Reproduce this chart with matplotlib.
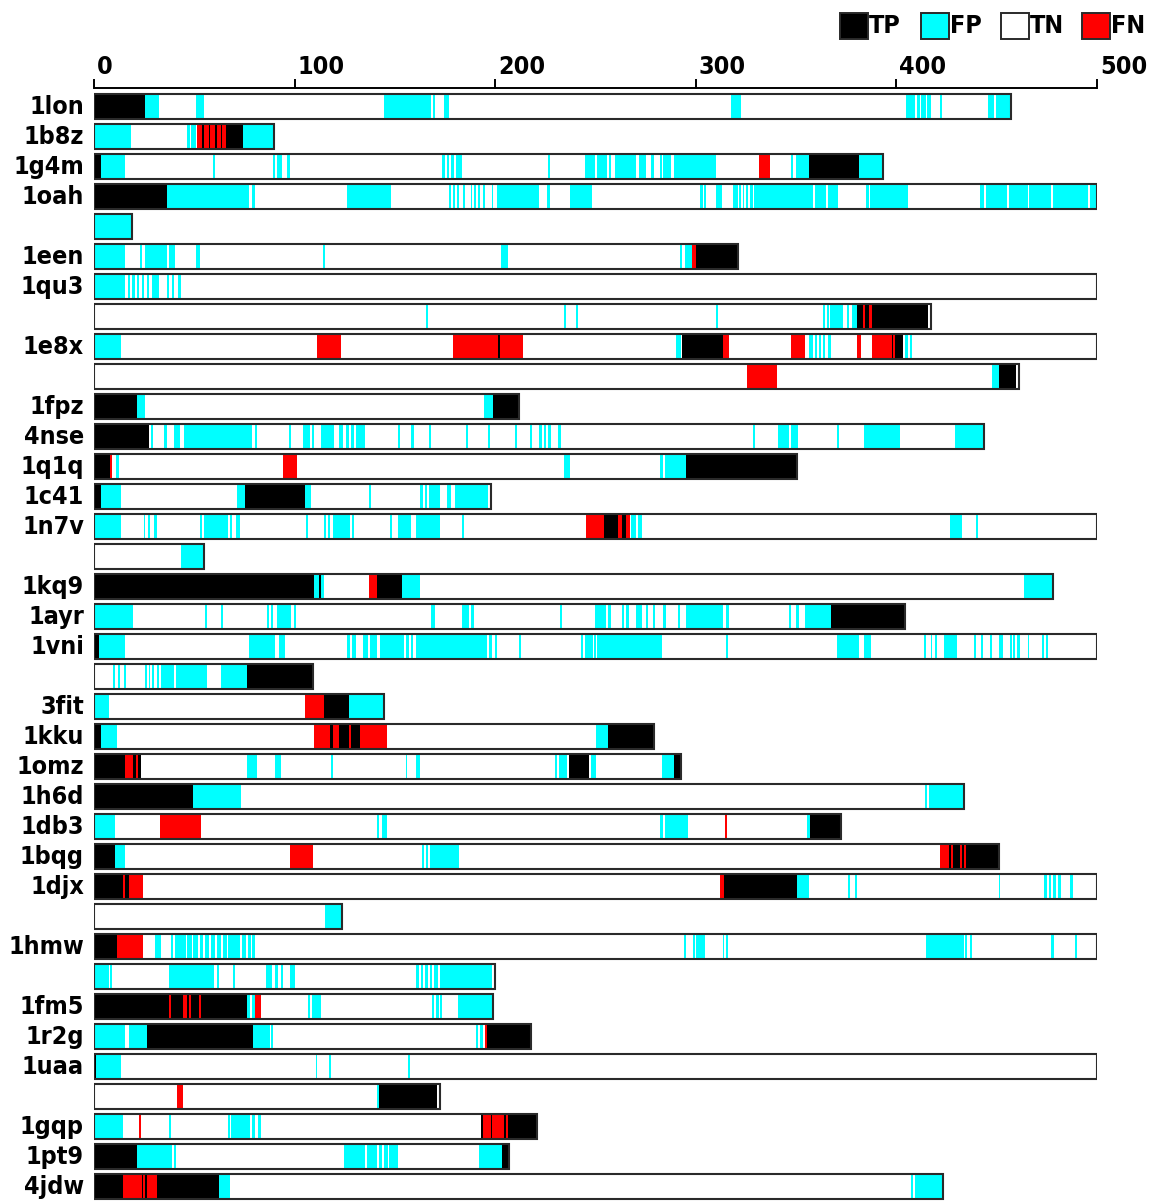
import matplotlib
matplotlib.use("Agg")
import matplotlib.pyplot as plt
from matplotlib.patches import Rectangle

# one entry per bar row ('' = continuation of the protein above)
labels = ['1lon', '1b8z', '1g4m', '1oah', '', '1een', '1qu3', '', '1e8x', '',
          '1fpz', '4nse', '1q1q', '1c41', '1n7v', '', '1kq9', '1ayr', '1vni', '',
          '3fit', '1kku', '1omz', '1h6d', '1db3', '1bqg', '1djx', '', '1hmw', '',
          '1fm5', '1r2g', '1uaa', '', '1gqp', '1pt9', '4jdw']
lengths = [457, 89.7, 393.2, 500, 19, 321.1, 500, 417, 500, 461,
           211.9, 443.9, 350.3, 198, 500, 55, 478.3, 404.4, 500, 109.1,
           144.4, 279, 292.8, 433.5, 372.2, 451, 500, 123.4, 500, 199.7,
           199.1, 217.8, 500, 172.4, 221, 206.7, 423.3]

tp_runs = [
    [(0, 25.6)],
    [(53.8, 54.6), (57.4, 58), (60.5, 61.1), (63.4, 64), (66, 74.4)],
    [(0, 3.5), (356.4, 381.5)],
    [(0, 36.5)],
    [],
    [(300.3, 321.1)],
    [],
    [(380.6, 383.3), (384.4, 386.5), (387.6, 415.6)],
    [(201.4, 202.2), (293.3, 313.4), (397.6, 398.5), (399.4, 403.4)],
    [(450.9, 459.5)],
    [(0, 21.4), (199.1, 211.9)],
    [(0, 27.5)],
    [(0, 8.1), (295.1, 350.3)],
    [(0, 3.3), (75.2, 105.3)],
    [(254.3, 261.1), (263.2, 265)],
    [],
    [(0, 109.8), (112.4, 113.3), (141.3, 153.4)],
    [(367.5, 404.4)],
    [(0, 2.3)],
    [(76.1, 109.1)],
    [(114.6, 127.2)],
    [(0, 3.3), (117.5, 119), (122.3, 127), (128.2, 132.4), (256.1, 279)],
    [(0, 15.5), (19.5, 21), (22, 23.3), (236.7, 246.8), (289.2, 292.8)],
    [(0, 49.4)],
    [(356.8, 372.2)],
    [(0, 10.4), (426, 427), (428, 431.5), (432.5, 433.5), (434.9, 451)],
    [(0, 14.5), (15.6, 17.6), (314.3, 350.5)],
    [],
    [(0, 11.3)],
    [],
    [(0, 37.6), (38.4, 44.3), (46.6, 47.5), (48.5, 52.3), (53.3, 76.1)],
    [(26.6, 79.4), (195.7, 217.8)],
    [(0, 0.8)],
    [(141.9, 171.1)],
    [(193, 194), (197.8, 198.5), (204.4, 205.2), (206.3, 221)],
    [(0, 21.4), (203.3, 206.7)],
    [(0, 14.4), (23.7, 24.3), (25.6, 26.6), (31.3, 62.2)],
]

fp_runs = [
    [(25.6, 32.3), (50.6, 54.6), (144.4, 168), (169.2, 170.1), (174.3, 177.2),
     (317.4, 322.4), (404.6, 409.5), (410.5, 411.6), (412.5, 414.8), (415.5, 417),
     (421.5, 422.7), (445.8, 448.7), (449.8, 457)],
    [(0, 18.4), (46.6, 47.7), (48.5, 50.8), (74.4, 89.7)],
    [(3.5, 15.7), (59.4, 60.3), (89.3, 90.4), (91.4, 93.9), (96, 97.5), (173.4, 174.9),
     (175.8, 177.2), (178.1, 179.5), (180.6, 183.3), (226.4, 227.3), (244.9, 249.8),
     (250.7, 255.5), (256.6, 257.9), (259.6, 270.4), (271.5, 275.4), (277.9, 279.4),
     (282, 283), (283.8, 287.4), (289.2, 310.2), (347.5, 348.5), (350.1, 356.4),
     (381.5, 393.2)],
    [(36.5, 77.5), (79, 80.3), (126.1, 148), (176.8, 178.1), (179.1, 180), (181, 181.9),
     (183.8, 184.8), (187.7, 188.6), (189.6, 190.5), (191.5, 192.4), (193.8, 194.9),
     (198.2, 199.1), (201, 222), (225.8, 227.3), (237.2, 248.3), (302.3, 303.5),
     (304.1, 305), (310.2, 313.1), (318.4, 320.9), (321.5, 322.4), (323.3, 324.2),
     (325.1, 326), (326.9, 328.6), (329.2, 358.6), (359.6, 365), (366, 370.8),
     (384.7, 386.2), (386.8, 405.7), (441.5, 443.9), (444.8, 455), (455.9, 465.4),
     (466.1, 477), (477.9, 495.3), (496.6, 499.8)],
    [(0, 19)],
    [(0, 15.7), (22.7, 24.1), (25.2, 36.5), (37.4, 40.5), (50.6, 52.7), (114.3, 115.2),
     (202.9, 206.2), (292.3, 293.3), (294.6, 298.2)],
    [(0, 15.7), (16.7, 18), (19, 20.3), (21.3, 22.5), (24, 25), (26.5, 27.5), (29, 32.3),
     (36.5, 37.6), (39, 40.1), (41.8, 43.2)],
    [(165.4, 166.3), (234.2, 235.2), (240.1, 241.1), (310.2, 311.3), (363.6, 364.5),
     (365.4, 366.3), (366.8, 373.4), (375.2, 376.5), (377.9, 380.6)],
    [(0, 13.4), (290.1, 292.8), (356.4, 358.2), (359.6, 360.5), (361.5, 362.5),
     (363.5, 364.4), (366, 367.5), (404.4, 405.7), (406.6, 407.8)],
    [(447.8, 450.9)],
    [(21.4, 25.6), (194.3, 199.1)],
    [(28.5, 29.4), (35.1, 36.5), (39.9, 42.8), (44.7, 79), (80.3, 81.3), (97.3, 98.4),
     (104.4, 107.6), (108.5, 109.9), (113.3, 119.4), (122.3, 124.2), (125.7, 127),
     (128.2, 129.5), (130.5, 135.2), (151.4, 152.4), (158.1, 159.5), (167.1, 168.2),
     (185.4, 186.3), (196.2, 197.6), (210, 211.1), (217.2, 218.2), (222, 223.5),
     (224.2, 225.5), (226.3, 227.7), (231.5, 232.9), (328.3, 329.5), (341.2, 346.6),
     (347.5, 350.7), (370.4, 371.5), (383.7, 401.6), (429, 443.9)],
    [(11, 12.3), (234.4, 237.2), (282.2, 283.5), (284.4, 295.1)],
    [(3.3, 13.4), (71.4, 75.2), (105.3, 108), (137.1, 138.1), (162.5, 163.8),
     (164.8, 166.1), (167.1, 172.4), (176.2, 178.1), (180, 196.5)],
    [(0, 13.4), (24.7, 25.6), (27, 27.9), (30, 31.3), (52.7, 53.8), (54.6, 66.6),
     (67.6, 68.9), (70.8, 72.9), (105.7, 106.6), (114.6, 115.6), (116.6, 117.5),
     (119, 127.6), (128.6, 129.5), (147.6, 148.6), (151.4, 158.1), (160.6, 172.4),
     (183.5, 184.4), (267.7, 270.4), (271.3, 273.1), (426.9, 432.6), (439.7, 440.6)],
    [(43.3, 54.1)],
    [(109.8, 112.4), (113.3, 114.8), (153.4, 162.3), (463.8, 477.9)],
    [(0, 19.5), (55.5, 56.5), (63.4, 64.3), (86.2, 87.2), (88.2, 89.1), (91.4, 98.1),
     (99.6, 100.5), (168.2, 170.1), (183.3, 187.1), (188, 189.6), (232.5, 233.4),
     (249.6, 255.2), (256.1, 257.9), (263.2, 264.1), (265, 266.5), (270.4, 273),
     (275, 276.1), (278.5, 279.7), (283.8, 285.1), (291, 292.3), (295.1, 313.4),
     (315.2, 316.5), (346.6, 347.5), (350.1, 351.6), (354.6, 367.5)],
    [(2.3, 15.7), (77.5, 90.4), (92.3, 95.2), (126.3, 127.6), (128.6, 130.8),
     (134.3, 136.6), (137.7, 141), (142.5, 154.3), (155.3, 156.8), (158.1, 159.1),
     (160.4, 195.9), (196.8, 198.2), (199.7, 201), (212.1, 213), (242.6, 243.9),
     (244.9, 249), (249.5, 250.3), (250.7, 283), (315.2, 316.3), (370.4, 381.5),
     (383.7, 387.4), (413.8, 414.7), (417, 417.9), (419.1, 420), (423.7, 430),
     (438.7, 439.6), (442.2, 443.1), (446.7, 447.6), (451.2, 453), (456.5, 457.4),
     (458.3, 459.2), (460.1, 461.4), (465.4, 466.3), (472.5, 473.4), (474.8, 475.7)],
    [(9.4, 10.4), (11.9, 12.8), (15.1, 16.1), (25.6, 26.6), (27.2, 28.1), (29.1, 30),
     (31.3, 32.3), (33.2, 39.9), (40.9, 56.5), (63.4, 76.1)],
    [(0, 7.5), (127.2, 144.4)],
    [(3.3, 11.3), (250, 256.1)],
    [(76.5, 81.3), (90.4, 93.3), (118.1, 119), (155.3, 156.2), (160.4, 162.3),
     (230, 231), (231.9, 235.7), (247.7, 250.3), (283, 289.2)],
    [(49.4, 73.3), (414.2, 415.5), (416.5, 433)],
    [(0, 10.4), (141.3, 142.3), (143.8, 146.1), (282, 283.8), (284.4, 296),
     (355.5, 356.8)],
    [(10.4, 15.5), (163.3, 164.4), (165.4, 166.7), (167.7, 182)],
    [(350.5, 356.4), (375.8, 376.7), (379.4, 380.4), (450.9, 451.8), (473.8, 475),
     (475.9, 477), (477.9, 479.5), (480.6, 482.2), (486.7, 488)],
    [(115.2, 123.4)],
    [(30.4, 33.2), (38.4, 39.3), (40.3, 46), (46.6, 49), (49.6, 52), (52.6, 54.5),
     (55.2, 57.5), (58.3, 60.5), (61.2, 63.5), (64.2, 66.5), (67, 73), (73.6, 76),
     (76.6, 78.5), (79, 80.5), (294, 295.1), (298.4, 299.4), (300.3, 304.4),
     (313.4, 314.3), (315.2, 316.3), (414.7, 433.5), (434, 435.3), (436.5, 437.6),
     (477, 478.6), (489, 489.9)],
    [(0.5, 7.4), (8.1, 9), (37.6, 59.9), (61.5, 62.4), (69.5, 70.4), (85.7, 88.5),
     (90, 91.6), (93.3, 94.2), (97.5, 100.3), (160.4, 161.9), (162.9, 164.2),
     (165.2, 166.7), (167.7, 168.6), (169.6, 171.5), (172.4, 198.5)],
    [(76.5, 78), (79, 80.3), (106.6, 107.6), (108.5, 113), (168.6, 169.6),
     (170.5, 171.8), (172.4, 173.4), (181.4, 198.2)],
    [(0, 15.5), (17.4, 26.6), (79.4, 87.6), (88.2, 89.1), (190.2, 191.5), (192.4, 193.8)],
    [(0.8, 13.4), (110.5, 111.4), (117.1, 118.1), (156.4, 157.3)],
    [(141, 141.9)],
    [(0, 14.4), (37.6, 38.6), (66.6, 67.6), (68.5, 78), (79, 80.3), (81.9, 83.4)],
    [(21.4, 39), (39.9, 40.9), (124.4, 135.2), (136.2, 141), (141.9, 143.8),
     (144.8, 146.7), (147.3, 151.4), (192, 203.3)],
    [(62.2, 67.6), (407.2, 408.4), (409.3, 422.9)],
]

fn_runs = [
    [],
    [(51.3, 53.8), (54.6, 57.4), (58, 60.5), (61.1, 63.4), (64, 66)],
    [(331.3, 337.2)],
    [], [],
    [(298.2, 300.3)],
    [],
    [(383.3, 384.4), (386.5, 387.6)],
    [(111.2, 123), (179.1, 201.4), (202.2, 214), (313.4, 316.5), (347.5, 354.3),
     (380.6, 382.4), (387.8, 397.6), (398.5, 399.4)],
    [(325.4, 340.3)],
    [], [],
    [(8.1, 9), (94.2, 101.3)],
    [],
    [(245.2, 254.3), (261.1, 263.2), (265, 267.2)],
    [],
    [(137.1, 141.3)],
    [], [], [],
    [(105.3, 114.6)],
    [(109.5, 117.5), (119, 122.3), (127, 128.2), (132.4, 146.1)],
    [(15.5, 19.5), (21, 22)],
    [],
    [(32.7, 53.3), (314.5, 315.4)],
    [(97.5, 109.1), (421.8, 426), (427, 428), (431.5, 432.5), (433.5, 434.9)],
    [(14.5, 15.6), (17.6, 24.3), (312.2, 314.3)],
    [],
    [(11.3, 24.3)],
    [],
    [(37.6, 38.4), (44.3, 46.6), (47.5, 48.5), (52.3, 53.3), (80.3, 83.4)],
    [(194.7, 195.7)],
    [],
    [(41.4, 44.3)],
    [(22.4, 23.3), (194, 197.8), (198.5, 204.4), (205.2, 206.3)],
    [],
    [(14.4, 23.7), (24.3, 25.6), (26.6, 31.3)],
]

ticks = [0, 100, 200, 300, 400, 500]
classes = ['TP', 'FP', 'TN', 'FN']
colors = {'TP': '#000000', 'FP': '#00ffff', 'TN': '#ffffff', 'FN': '#ff0000'}

FONT = dict(family='DejaVu Sans', fontstretch='condensed', fontweight='bold',
            fontsize=18)
W, H = 1151, 1202
fig = plt.figure(figsize=(W / 100, H / 100), dpi=100)
fig.patch.set_facecolor('white')
x0, x1 = 94, 1097
row0, pitch = 106.8, 30.0
ax = fig.add_axes([x0 / W, 0, (x1 - x0) / W, 1])
ax.set_xlim(0, 500)
ax.set_ylim((H - row0) / pitch, -row0 / pitch)
ax.axis('off')


def px(xp, yp):
    # figure pixel -> data coords
    return (xp - x0) * 500.0 / (x1 - x0), (yp - row0) / pitch


bh = 25 / pitch
for i, name in enumerate(labels):
    for key, runs in (('TP', tp_runs[i]), ('FP', fp_runs[i]), ('FN', fn_runs[i])):
        if runs:
            ax.barh([i] * len(runs), [b - a for a, b in runs], left=[a for a, b in runs],
                    height=bh, color=colors[key], linewidth=0)
    ax.add_patch(Rectangle((0, i - bh / 2), lengths[i], bh, facecolor='none',
                           edgecolor='#2a2a2a', linewidth=1.5, zorder=5))
    if name:
        tx, _ = px(84, 0)
        ax.text(tx, i + 0.02, name, ha='right', va='center', clip_on=False, **FONT)

# top axis with ticks
_, ya = px(0, 88)
_, yt = px(0, 80)
ax.plot([0, 500], [ya, ya], color='black', lw=1.4, clip_on=False, solid_capstyle='butt')
for t in ticks:
    ax.plot([t, t], [ya, yt], color='black', lw=1.4, clip_on=False)
    ax.text(t + 1.5, px(0, 79)[1], str(t), ha='left', va='bottom', clip_on=False, **FONT)

# legend
box_x = [840, 921, 1001, 1082]
for cls, bx in zip(classes, box_x):
    lx, ly = px(bx, 13)
    rx, ry = px(bx + 28, 39)
    ax.add_patch(Rectangle((lx, ly), rx - lx, ry - ly, facecolor=colors[cls],
                           edgecolor='#2a2a2a', linewidth=1.4, clip_on=False))
    ax.text(rx + 0.3, px(0, 26)[1], cls, ha='left', va='center', clip_on=False, **FONT)

fig.savefig('out.png', dpi=100, facecolor='white')
